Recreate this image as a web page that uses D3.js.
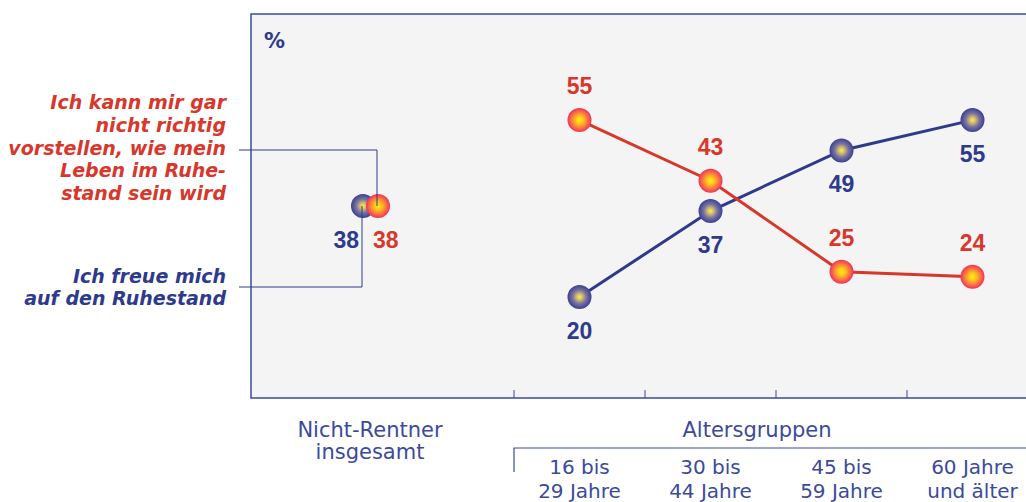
<!DOCTYPE html>
<html lang="de">
<head>
<meta charset="utf-8">
<title>Ruhestand</title>
<script src="https://cdnjs.cloudflare.com/ajax/libs/d3/7.8.5/d3.min.js"></script>
<style>
  body { margin: 0; background: #fff; }
  svg text { font-family: "Liberation Sans", Arial, sans-serif; }
  svg text.wide { font-family: "DejaVu Sans", sans-serif; }
</style>
</head>
<body>
<svg id="chart" width="1026" height="502"></svg>
<script>
// data
let ageGroups = ["16 bis|29 Jahre", "30 bis|44 Jahre", "45 bis|59 Jahre", "60 Jahre|und älter"];
let freueMich = [20, 37, 49, 55];       // blue
let vorstellen = [55, 43, 25, 24];      // red
let overallFreue = 38;
let overallVorstellen = 38;
let overallLabel = ["Nicht-Rentner", "insgesamt"];
let groupTitle = "Altersgruppen";
let redText = ["Ich kann mir gar", "nicht richtig", "vorstellen, wie mein", "Leben im Ruhe-", "stand sein wird"];
let blueText = ["Ich freue mich", "auf den Ruhestand"];

let blue = "#2e3a8c", red = "#d8372b", axisBlue = "#3b4a9c";
let svg = d3.select("#chart");

let plot = {left: 251, top: 14, right: 1040, bottom: 398};

let y = d3.scaleLinear().domain([0, 76]).range([plot.bottom, plot.top]);
let x = d3.scaleBand().domain(ageGroups).range([514, 1038]);
let xAll = d3.scaleBand().domain(["all"]).range([238, 502]);

// gradients
let defs = svg.append("defs");
function grad(id, stops){
    let g = defs.append("radialGradient").attr("id", id)
        .attr("cx", "50%").attr("cy", "50%").attr("r", "52%");
    stops.forEach(s => g.append("stop").attr("offset", s[0]).attr("stop-color", s[1]));
}
grad("gRed", [["0%", "#fff200"], ["30%", "#ffc422"], ["65%", "#ff7440"], ["100%", "#e82c5c"]]);
grad("gBlue", [["0%", "#fff23a"], ["25%", "#cbbb72"], ["55%", "#7a72a0"], ["100%", "#343c90"]]);

// plot background
svg.append("rect")
    .attr("x", plot.left).attr("y", plot.top)
    .attr("width", plot.right - plot.left).attr("height", plot.bottom - plot.top)
    .attr("fill", "#f4f4f4")
    .attr("stroke", axisBlue).attr("stroke-width", 1.5);

// ticks at the bottom
let tickX = [x.range()[0]].concat(ageGroups.slice(1).map(d => x(d)));
svg.append("g").selectAll("line").data(tickX).join("line")
    .attr("x1", d => d).attr("x2", d => d)
    .attr("y1", plot.bottom - 8).attr("y2", plot.bottom)
    .attr("stroke", axisBlue).attr("stroke-width", 1);

svg.append("text").attr("class", "wide").attr("x", 264).attr("y", 48)
    .attr("fill", blue).attr("font-size", 21).attr("font-weight", "bold").text("%");

// category labels
let catG = svg.append("g").attr("fill", axisBlue).attr("font-size", 21).attr("text-anchor", "middle");
ageGroups.forEach(a => {
    a.split("|").forEach((s, i) => catG.append("text").attr("class", "wide")
        .attr("font-size", 20)
        .attr("x", x(a) + x.bandwidth() / 2).attr("y", i ? 498 : 474).text(s));
});
let ov = catG.append("text").attr("class", "wide").attr("y", 437);
overallLabel.forEach((s, i) => ov.append("tspan").attr("x", xAll("all") + xAll.bandwidth() / 2).attr("dy", i ? 22 : 0).text(s));
catG.append("text").attr("class", "wide").attr("x", 757).attr("y", 437).text(groupTitle);

// bracket
svg.append("path")
    .attr("d", `M${x.range()[0]},472V448H1030`)
    .attr("fill", "none").attr("stroke", axisBlue).attr("stroke-width", 1.2);

let cx = a => x(a) + x.bandwidth() / 2;
let allX = xAll("all") + xAll.bandwidth() / 2;

// lines
let line = d3.line().x(d => cx(d.a)).y(d => y(d.v));
let blueData = ageGroups.map((a, i) => ({a: a, v: freueMich[i]}));
let redData = ageGroups.map((a, i) => ({a: a, v: vorstellen[i]}));
svg.append("path").datum(blueData).attr("d", line)
    .attr("fill", "none").attr("stroke", blue).attr("stroke-width", 3);
svg.append("path").datum(redData).attr("d", line)
    .attr("fill", "none").attr("stroke", red).attr("stroke-width", 3);

// leader lines for left annotations
svg.append("path")
    .attr("d", `M239,150H${allX + 7}V${y(overallVorstellen)}`)
    .attr("fill", "none").attr("stroke", blue).attr("stroke-width", 1);
svg.append("path")
    .attr("d", `M239,287H${allX - 8}V${y(overallFreue)}`)
    .attr("fill", "none").attr("stroke", blue).attr("stroke-width", 1);

// markers
svg.append("circle").attr("cx", allX - 7).attr("cy", y(overallFreue)).attr("r", 12).attr("fill", "url(#gBlue)");
svg.append("circle").attr("cx", allX + 8).attr("cy", y(overallVorstellen)).attr("r", 12).attr("fill", "url(#gRed)");
// leader lines pass over the circles
svg.append("line").attr("x1", allX + 7).attr("x2", allX + 7).attr("y1", y(overallVorstellen) - 12).attr("y2", y(overallVorstellen)).attr("stroke", blue);
svg.append("line").attr("x1", allX - 8).attr("x2", allX - 8).attr("y1", y(overallFreue)).attr("y2", y(overallFreue) + 12).attr("stroke", blue);

svg.append("g").selectAll("circle").data(blueData).join("circle")
    .attr("cx", d => cx(d.a)).attr("cy", d => y(d.v)).attr("r", 12).attr("fill", "url(#gBlue)");
svg.append("g").selectAll("circle").data(redData).join("circle")
    .attr("cx", d => cx(d.a)).attr("cy", d => y(d.v)).attr("r", 12).attr("fill", "url(#gRed)");

// value labels
let vl = svg.append("g").attr("font-size", 23).attr("font-weight", "bold").attr("text-anchor", "middle");
vl.selectAll(".b").data(blueData).join("text").attr("class", "b")
    .attr("x", d => cx(d.a)).attr("y", d => y(d.v) + 42).attr("fill", blue).text(d => d.v);
vl.selectAll(".r").data(redData).join("text").attr("class", "r")
    .attr("x", d => cx(d.a)).attr("y", d => y(d.v) - 26).attr("fill", red).text(d => d.v);
vl.append("text").attr("x", allX - 11).attr("y", y(overallFreue) + 42).attr("text-anchor", "end").attr("fill", blue).text(overallFreue);
vl.append("text").attr("x", allX + 3).attr("y", y(overallVorstellen) + 42).attr("text-anchor", "start").attr("fill", red).text(overallVorstellen);

// left annotations
let an = svg.append("g").attr("font-size", 19).attr("font-style", "italic").attr("font-weight", "bold").attr("text-anchor", "end");
an.selectAll(".rt").data(redText).join("text").attr("class", "rt wide")
    .attr("x", 226).attr("y", (d, i) => 109 + i * 22.8).attr("fill", red).text(d => d);
an.selectAll(".bt").data(blueText).join("text").attr("class", "bt wide")
    .attr("x", 226).attr("y", (d, i) => 283 + i * 22).attr("fill", blue).text(d => d);
</script>
</body>
</html>
